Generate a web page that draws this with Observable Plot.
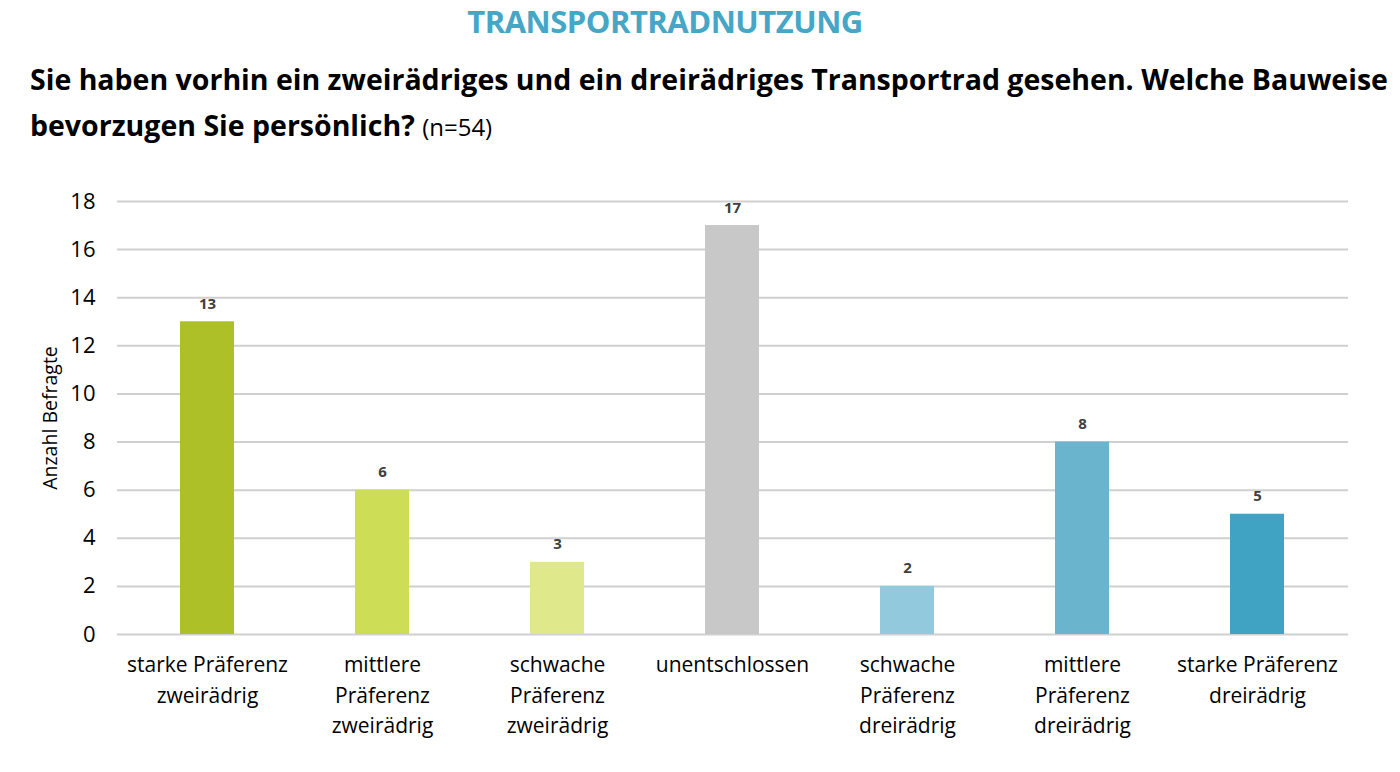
<!DOCTYPE html>
<html>
<head>
<meta charset="utf-8">
<script src="https://cdn.jsdelivr.net/npm/d3@7"></script>
<script src="https://cdn.jsdelivr.net/npm/@observablehq/plot@0.6"></script>
<style>
  html, body { margin:0; padding:0; background:#fff; width:1400px; height:772px; overflow:hidden; font-family: "Open Sans", Lato, sans-serif; }
  #title { position:absolute; left:0; width:1330px; top:0px; text-align:center; font-weight:bold; font-size:31px; color:#45a6c6; letter-spacing:-0.5px; }
  #q { position:absolute; left:30px; top:56px; width:1390px; font-weight:bold; font-size:28.5px; line-height:46px; color:#000; white-space:nowrap; letter-spacing:0px; }
  #q .n { font-weight:normal; font-size:24px; letter-spacing:0; }
  #chart { position:absolute; left:0; top:170px; }
</style>
</head>
<body>
<div id="title">TRANSPORTRADNUTZUNG</div>
<div id="q">Sie haben vorhin ein zweirädriges und ein dreirädriges Transportrad gesehen. Welche Bauweise<br>bevorzugen Sie persönlich? <span class="n">(n=54)</span></div>
<div id="chart"></div>
<script>
const categories = [
  "starke Präferenz\nzweirädrig",
  "mittlere\nPräferenz\nzweirädrig",
  "schwache\nPräferenz\nzweirädrig",
  "unentschlossen",
  "schwache\nPräferenz\ndreirädrig",
  "mittlere\nPräferenz\ndreirädrig",
  "starke Präferenz\ndreirädrig"
];
const values = [13, 6, 3, 17, 2, 8, 5];
const yTicks = [0, 2, 4, 6, 8, 10, 12, 14, 16, 18];
const palette = ["#adc027", "#cddd56", "#dfe98b", "#c8c8c8", "#92c9dc", "#6ab4cd", "#41a3c3"];

const data = categories.map((c, i) => ({cat: c, value: values[i]}));

const chart = Plot.plot({
  width: 1400,
  height: 600,
  marginLeft: 117,
  marginRight: 52,
  marginTop: 31,
  marginBottom: 136,
  style: {fontFamily: "'Open Sans', Lato, sans-serif", fontSize: "20px", color: "#000", background: "white"},
  x: {domain: categories, paddingInner: 0.69, paddingOuter: 0.345},
  y: {domain: [0, 18]},
  color: {domain: categories, range: palette},
  marks: [
    Plot.gridY(yTicks, {stroke: "#d0d0d0", strokeOpacity: 1, strokeWidth: 2}),
    Plot.barY(data, {x: "cat", y: "value", fill: "cat"}),
    Plot.text(data, {x: "cat", y: "value", text: d => String(d.value), dy: -13, lineAnchor: "bottom", fontWeight: "bold", fontSize: 15, fill: "#404040"}),
    Plot.axisY({ticks: yTicks, tickSize: 0, tickPadding: 22, label: null, fontSize: 22}),
    Plot.axisY({ticks: [], tickSize: 0, label: "Anzahl Befragte", labelAnchor: "center", labelArrow: "none", labelOffset: 74, fontSize: 19.5}),
    Plot.axisX({tickSize: 0, tickPadding: 16, lineHeight: 1.45, label: null, fontSize: 21})
  ]
});
document.getElementById("chart").appendChild(chart);
</script>
</body>
</html>
